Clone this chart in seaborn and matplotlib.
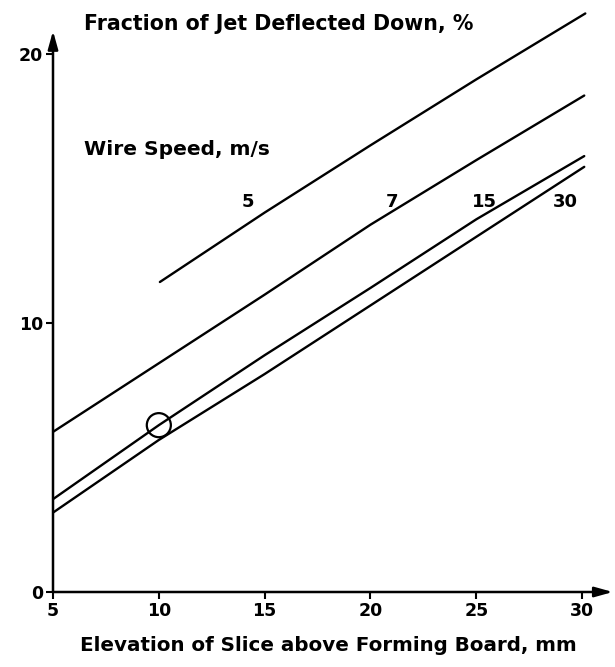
import matplotlib
matplotlib.use("Agg")
import matplotlib.pyplot as plt
import seaborn as sns
import pandas as pd

sns.set_theme(style="white")
plt.rcParams['font.family'] = ['DejaVu Sans']
plt.rcParams['text.color'] = 'black'
plt.rcParams['axes.labelcolor'] = 'black'
plt.rcParams['xtick.color'] = 'black'
plt.rcParams['ytick.color'] = 'black'

# Data
x_5 = [10.05, 15, 20, 25, 30.15]
y_5 = [11.52, 14.1, 16.6, 19.05, 21.5]
x_7 = [5, 10, 15, 20, 25, 30.1]
y_7 = [5.95, 8.5, 11.05, 13.65, 16.05, 18.45]
x_15 = [5, 10, 15, 20, 25, 30.1]
y_15 = [3.45, 6.2, 8.8, 11.3, 13.85, 16.2]
x_30 = [5, 10, 15, 20, 25, 30.1]
y_30 = [2.95, 5.65, 8.1, 10.65, 13.2, 15.8]
speeds = ["5", "7", "15", "30"]
marker_x = [10]
marker_y = [6.2]
x_ticks = [5, 10, 15, 20, 25, 30]
y_ticks = [0, 10, 20]

frames = []
for s, xs, ys in zip(speeds, [x_5, x_7, x_15, x_30], [y_5, y_7, y_15, y_30]):
    frames.append(pd.DataFrame({"elev": xs, "frac": ys, "speed": s}))
df = pd.concat(frames, ignore_index=True)

fig = plt.figure(figsize=(6.15, 6.67), dpi=100)
ax = fig.add_axes([53/615, 75/667, 563/615, 592/667])

sns.lineplot(data=df, x="elev", y="frac", hue="speed", units="speed", estimator=None,
             palette={s: "black" for s in speeds}, linewidth=1.7, legend=False, ax=ax, sort=True)
sns.scatterplot(x=marker_x, y=marker_y, s=300, facecolors="none", edgecolor="black",
                linewidth=1.6, ax=ax, zorder=5)

ax.set_xlim(5, 31.6)
ax.set_ylim(0, 22)
for sp in ax.spines.values():
    sp.set_visible(False)

# axes with arrows
ax.annotate("", xy=(31.45, 0), xytext=(5, 0),
            arrowprops=dict(arrowstyle="-|>,head_length=0.9,head_width=0.25", color="black", lw=1.8,
                            shrinkA=0, shrinkB=0))
ax.annotate("", xy=(5, 20.85), xytext=(5, 0),
            arrowprops=dict(arrowstyle="-|>,head_length=0.9,head_width=0.25", color="black", lw=1.8,
                            shrinkA=0, shrinkB=0))

ax.set_xticks(x_ticks)
ax.set_yticks(y_ticks)
ax.set_xticklabels([str(t) for t in x_ticks], fontweight="bold", fontsize=12.5)
ax.set_yticklabels([str(t) for t in y_ticks], fontweight="bold", fontsize=12.5)
ax.tick_params(axis="both", direction="out", length=5, width=1.5, color="black",
               left=True, bottom=True, pad=2, labelcolor="black")
ax.set_xlabel("Elevation of Slice above Forming Board, mm", fontweight="bold", fontsize=14.3,
              labelpad=12, color="black")
ax.xaxis.set_label_coords(0.49, -0.075)
ax.set_ylabel("")
ax.grid(False)

ax.text(6.45, 21.1, "Fraction of Jet Deflected Down, %", fontweight="bold", fontsize=14.8,
        va="center", ha="left", color="black")
ax.text(6.45, 16.43, "Wire Speed, m/s", fontweight="bold", fontsize=14.5, va="center", ha="left",
        color="black")
for lbl, lx in zip(speeds, [14.22, 21.02, 25.37, 29.2]):
    ax.text(lx, 14.5, lbl, fontweight="bold", fontsize=13, va="center", ha="center", color="black")

fig.savefig("out.png", dpi=100, facecolor="white")
